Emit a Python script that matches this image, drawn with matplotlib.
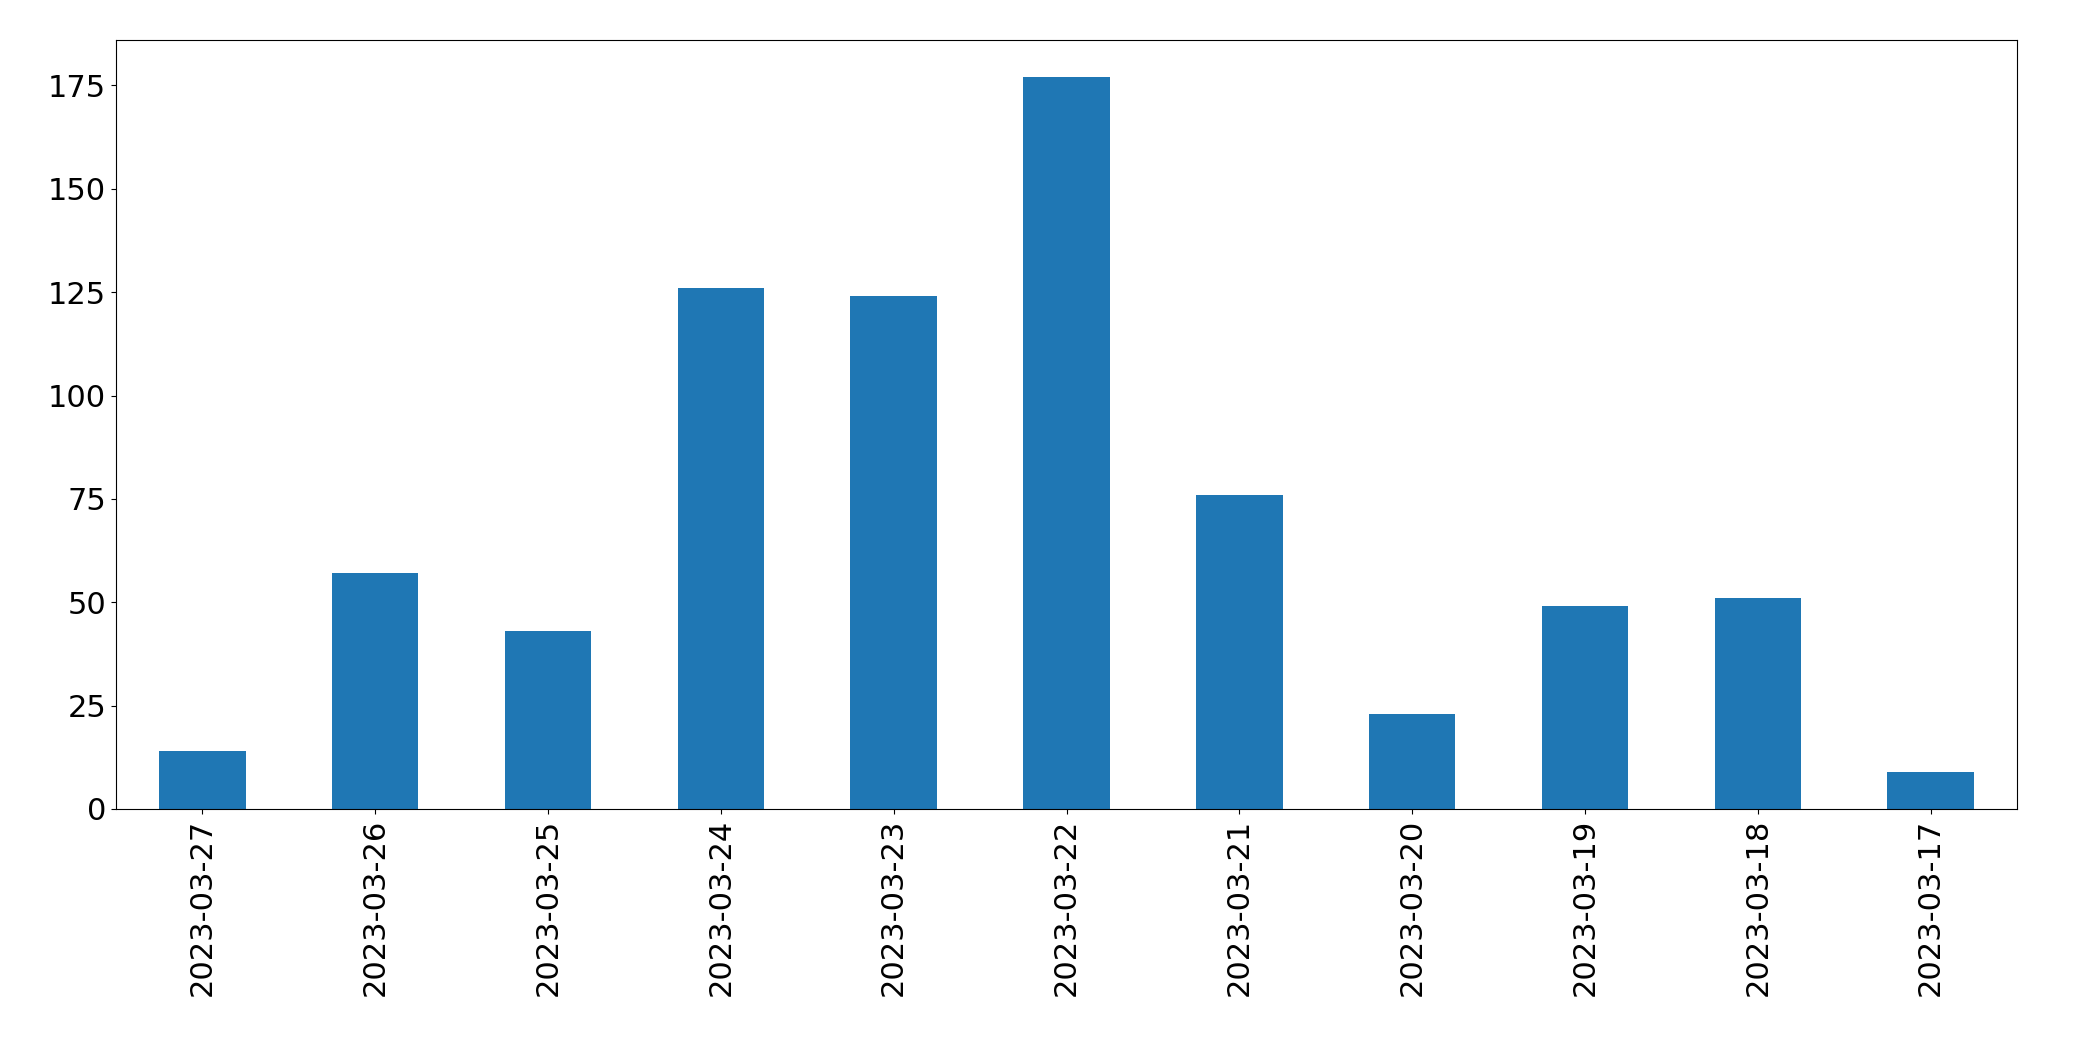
import matplotlib
matplotlib.use("Agg")
import matplotlib.pyplot as plt
import numpy as np

dates = ["2023-03-27","2023-03-26","2023-03-25","2023-03-24","2023-03-23","2023-03-22",
         "2023-03-21","2023-03-20","2023-03-19","2023-03-18","2023-03-17"]
counts = [14, 57, 43, 126, 124, 177, 76, 23, 49, 51, 9]

fig = plt.figure(figsize=(20.93, 10.61), dpi=100)
ax = fig.add_axes([116/2093, 1-809/1061, (2017-116)/2093, (809-40)/1061])
x = np.arange(len(dates))
ax.bar(x, counts, width=0.5, color="#1f77b4")
ax.set_xlim(-0.5, len(dates)-0.5)
ax.set_ylim(0, 186)
ax.set_yticks([0,25,50,75,100,125,150,175])
ax.set_xticks(x)
ax.set_xticklabels(dates, rotation=90)
ax.tick_params(labelsize=22)
fig.savefig("out.png", dpi=100)
